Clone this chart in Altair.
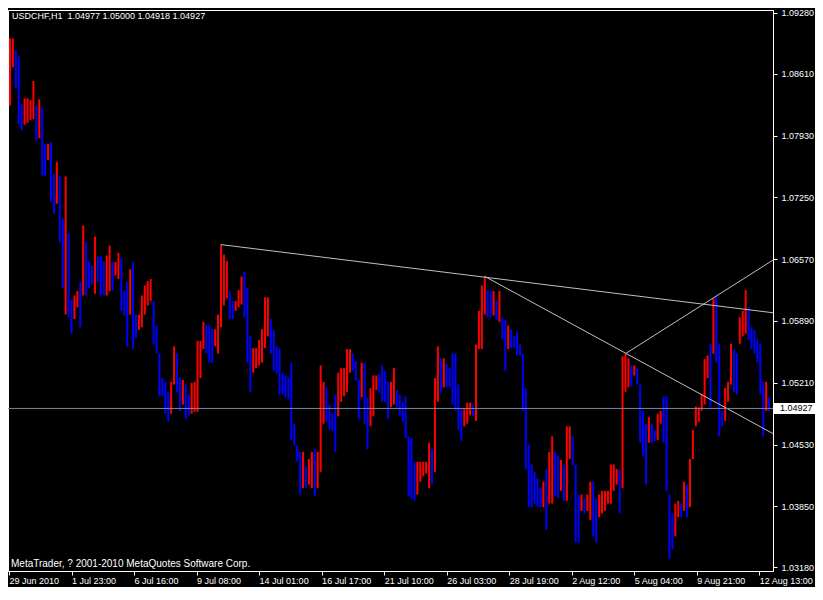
import altair as alt
import pandas as pd

# ---- data (prices in pips, 1 pip = 0.0001), one bar per 3 hours ----
highs_pips = [
    10900, 10900, 10887, 10880, 10828, 10834, 10834, 10832, 10853, 10827,
    10833, 10824, 10784, 10784, 10786, 10751, 10764, 10749, 10702, 10748,
    10686, 10612, 10617, 10622, 10632, 10694, 10676, 10655, 10650, 10682,
    10660, 10660, 10655, 10661, 10672, 10654, 10654, 10664, 10658, 10622,
    10632, 10646, 10654, 10596, 10596, 10617, 10628, 10633, 10635, 10611,
    10584, 10553, 10526, 10522, 10511, 10522, 10561, 10553, 10527, 10524,
    10519, 10508, 10521, 10522, 10567, 10567, 10588, 10585, 10585, 10580,
    10580, 10596, 10673, 10662, 10655, 10622, 10611, 10611, 10623, 10638,
    10643, 10625, 10572, 10559, 10559, 10568, 10580, 10615, 10615, 10591,
    10579, 10561, 10559, 10532, 10529, 10527, 10543, 10476, 10452, 10445,
    10445, 10429, 10437, 10445, 10448, 10445, 10540, 10522, 10516, 10497,
    10487, 10508, 10532, 10537, 10537, 10558, 10558, 10553, 10545, 10524,
    10543, 10543, 10505, 10515, 10529, 10529, 10531, 10540, 10534, 10522,
    10522, 10537, 10513, 10508, 10500, 10506, 10462, 10460, 10434, 10434,
    10434, 10434, 10434, 10455, 10448, 10526, 10561, 10548, 10548, 10542,
    10537, 10553, 10553, 10519, 10492, 10492, 10499, 10499, 10497, 10563,
    10600, 10628, 10638, 10623, 10622, 10622, 10611, 10622, 10593, 10590,
    10584, 10580, 10572, 10577, 10563, 10553, 10515, 10453, 10431, 10423,
    10416, 10405, 10412, 10426, 10445, 10462, 10445, 10441, 10436, 10431,
    10473, 10473, 10462, 10431, 10398, 10398, 10394, 10398, 10412, 10412,
    10394, 10398, 10402, 10402, 10402, 10431, 10431, 10426, 10425, 10550,
    10553, 10548, 10540, 10540, 10537, 10519, 10490, 10476, 10483, 10476,
    10469, 10487, 10490, 10506, 10506, 10398, 10377, 10388, 10391, 10388,
    10412, 10409, 10437, 10469, 10495, 10494, 10508, 10547, 10551, 10564,
    10614, 10617, 10564, 10490, 10515, 10522, 10564, 10558, 10553, 10593,
    10600, 10623, 10604, 10582, 10579, 10569, 10564, 10522, 10522, 10505,
]
lows_pips = [
    10826, 10868, 10845, 10805, 10799, 10805, 10807, 10810, 10811, 10787,
    10790, 10749, 10749, 10766, 10720, 10707, 10718, 10675, 10625, 10596,
    10593, 10575, 10591, 10604, 10582, 10617, 10617, 10625, 10629, 10619,
    10632, 10617, 10617, 10617, 10622, 10622, 10639, 10635, 10600, 10595,
    10561, 10596, 10558, 10570, 10579, 10582, 10596, 10606, 10611, 10563,
    10553, 10506, 10506, 10487, 10478, 10487, 10519, 10511, 10490, 10497,
    10481, 10485, 10487, 10489, 10489, 10526, 10558, 10553, 10543, 10543,
    10561, 10553, 10582, 10606, 10614, 10591, 10591, 10600, 10604, 10607,
    10593, 10543, 10511, 10532, 10537, 10540, 10543, 10559, 10572, 10553,
    10534, 10531, 10508, 10508, 10505, 10503, 10458, 10452, 10434, 10398,
    10405, 10405, 10409, 10405, 10396, 10405, 10423, 10476, 10478, 10469,
    10468, 10445, 10484, 10500, 10506, 10511, 10532, 10534, 10523, 10481,
    10505, 10476, 10448, 10473, 10484, 10513, 10510, 10500, 10500, 10481,
    10494, 10497, 10494, 10485, 10478, 10460, 10396, 10393, 10391, 10398,
    10412, 10418, 10421, 10405, 10409, 10423, 10500, 10510, 10516, 10516,
    10516, 10497, 10490, 10469, 10457, 10473, 10476, 10485, 10484, 10479,
    10558, 10558, 10596, 10593, 10593, 10595, 10590, 10588, 10569, 10534,
    10558, 10559, 10559, 10551, 10551, 10490, 10426, 10384, 10384, 10388,
    10384, 10384, 10384, 10359, 10388, 10388, 10396, 10394, 10402, 10391,
    10391, 10437, 10430, 10345, 10345, 10380, 10377, 10380, 10370, 10352,
    10345, 10373, 10377, 10380, 10388, 10388, 10402, 10409, 10377, 10405,
    10511, 10516, 10517, 10529, 10519, 10455, 10441, 10409, 10455, 10455,
    10457, 10458, 10476, 10455, 10402, 10327, 10338, 10352, 10373, 10373,
    10380, 10373, 10384, 10437, 10473, 10478, 10490, 10497, 10526, 10494,
    10553, 10543, 10462, 10473, 10479, 10500, 10519, 10511, 10508, 10564,
    10572, 10575, 10568, 10558, 10553, 10543, 10508, 10462, 10490, 10490,
]
assert len(highs_pips) == len(lows_pips)

symbol = "USDCHF,H1"
ohlc_now = ["1.04977", "1.05000", "1.04918", "1.04927"]
bid_price = 1.04927
footer = "MetaTrader, ? 2001-2010 MetaQuotes Software Corp."

time_ticks = [1, 65, 129, 193, 257, 321, 385, 449, 513, 577, 641, 705, 769]
time_labels = ["29 Jun 2010", "1 Jul 23:00", "6 Jul 16:00", "9 Jul 08:00",
               "14 Jul 01:00", "16 Jul 17:00", "21 Jul 10:00", "26 Jul 03:00",
               "28 Jul 19:00", "2 Aug 12:00", "5 Aug 04:00", "9 Aug 21:00",
               "12 Aug 13:00"]
price_ticks = [1.0928, 1.0894, 1.0861, 1.0827, 1.0793, 1.0759, 1.0725, 1.0691,
               1.0657, 1.0623, 1.0589, 1.0555, 1.0521, 1.0487, 1.0453, 1.0419,
               1.0385, 1.0351, 1.0318]

# trend lines: (start hour, start price, end hour, end price)
line_h1 = [218, 488, 632]
line_p1 = [1.0673, 1.0638, 1.0553]
line_h2 = [783, 783, 783]
line_p2 = [1.0598, 1.0465, 1.0656]

# ---- tables ----
bars = pd.DataFrame({
    "hour": [2 + 3 * i for i in range(len(highs_pips))],
    "high": [v / 10000 for v in highs_pips],
    "low": [v / 10000 for v in lows_pips],
})
mid = ((bars["high"] + bars["low"]) / 2).tolist()
bars["dir"] = ["up" if i == 0 or mid[i] >= mid[i - 1] else "down" for i in range(len(mid))]

lines = pd.DataFrame({"h1": line_h1, "p1": line_p1, "h2": line_h2, "p2": line_p2})
bid = pd.DataFrame({"p": [bid_price], "label": [f"{bid_price:.5f}"]})
header = pd.DataFrame({"t": [symbol + "\u00a0\u00a0" + " ".join(ohlc_now)]})
foot = pd.DataFrame({"t": [footer]})

W, H = 765, 561
R, B, T = 42, 16, 2
xscale = alt.Scale(domain=[0, 783], nice=False, zero=False)
yscale = alt.Scale(domain=[1.03138, 1.09312], nice=False, zero=False)

label_expr = "[" + ",".join("'" + s + "'" for s in time_labels) + "][round((datum.value - 1) / 64)]"

x_axis = alt.Axis(values=time_ticks, labelExpr=label_expr, labelAlign="left",
                  labelBaseline="top", tickSize=4, labelPadding=1, labelOverlap=False,
                  labelFlush=False, labelBound=False, grid=False, title=None)
y_axis = alt.Axis(orient="right", values=price_ticks, format=".5f", tickSize=4,
                  labelPadding=4, labelOverlap=False, labelFlush=False,
                  grid=False, title=None)

bar_layer = alt.Chart(bars).mark_rule(strokeWidth=2).encode(
    x=alt.X("hour:Q", scale=xscale, axis=x_axis),
    y=alt.Y("low:Q", scale=yscale, axis=y_axis),
    y2="high:Q",
    color=alt.Color("dir:N", scale=alt.Scale(domain=["up", "down"],
                                             range=["#ff0000", "#0000ff"]), legend=None),
)

trend_layer = alt.Chart(lines).mark_rule(color="#c0c0c0", strokeWidth=1).encode(
    x=alt.X("h1:Q", scale=xscale, title=None),
    x2="h2:Q",
    y=alt.Y("p1:Q", scale=yscale, title=None),
    y2="p2:Q",
)

bid_line = alt.Chart(bid).mark_rule(color="#778899", strokeWidth=1).encode(
    y=alt.Y("p:Q", scale=yscale, title=None),
)

bid_box = alt.Chart(bid).mark_rule(color="white", strokeWidth=11, strokeCap="butt").encode(
    x=alt.value(W + 1), x2=alt.value(W + R),
    y=alt.Y("p:Q", scale=yscale, title=None),
)
bid_text = alt.Chart(bid).mark_text(align="left", baseline="middle", color="black",
                                    fontSize=9, font="Liberation Sans").encode(
    x=alt.value(W + 7),
    y=alt.Y("p:Q", scale=yscale, title=None),
    text="label:N",
)

header_text = alt.Chart(header).mark_text(align="left", baseline="middle", color="white",
                                          fontSize=9, font="Liberation Sans").encode(
    x=alt.value(4), y=alt.value(6), text="t:N")
footer_text = alt.Chart(foot).mark_text(align="left", baseline="middle", color="white",
                                        fontSize=10, font="Liberation Sans").encode(
    x=alt.value(3), y=alt.value(554), text="t:N")

chart = alt.layer(
    bar_layer, trend_layer, bid_line, bid_box, bid_text, header_text, footer_text
).properties(
    width=W, height=H,
    background="black",
    padding={"left": 0, "top": T, "right": R, "bottom": B},
    autosize=alt.AutoSizeParams(type="none"),
).configure_view(
    stroke="white", strokeWidth=1,
).configure_axis(
    labelColor="white", tickColor="white", domainColor="white",
    labelFont="Liberation Sans", labelFontSize=9,
)

chart.save("out.html", embed_options={"renderer": "svg", "actions": False})
